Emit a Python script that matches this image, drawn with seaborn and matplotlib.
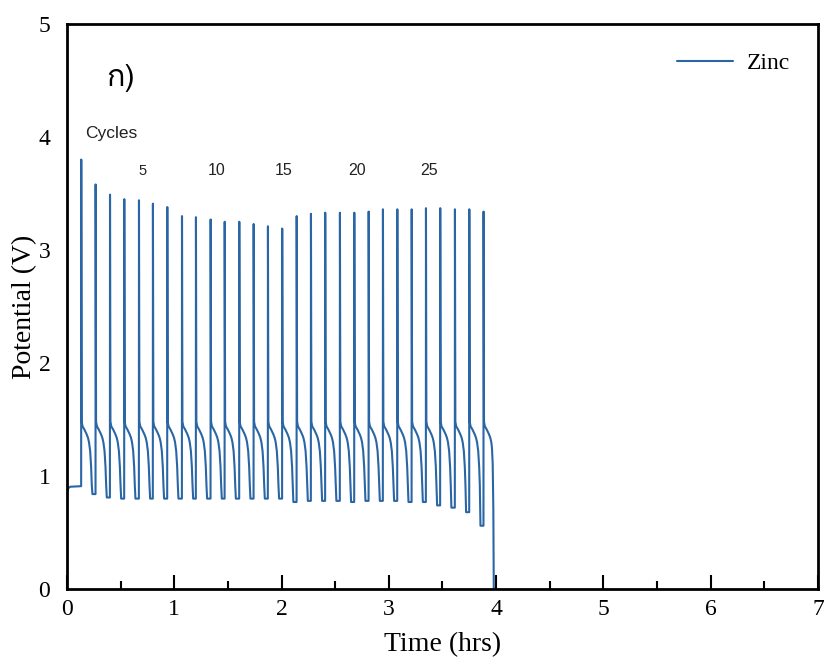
import pandas as pd
import seaborn as sns
import matplotlib.pyplot as plt
from matplotlib import font_manager, ft2font
from matplotlib.ticker import MultipleLocator

sns.set_style('ticks')
plt.rcParams['font.family'] = ['Liberation Serif', 'DejaVu Serif']

# time of each charge spike (hrs) and its peak potential (V)
peak_t = [0.133, 0.267, 0.401, 0.534, 0.671, 0.801, 0.935, 1.072, 1.202, 1.339,
          1.470, 1.606, 1.740, 1.873, 2.006, 2.141, 2.274, 2.407, 2.544, 2.678,
          2.812, 2.945, 3.079, 3.213, 3.346, 3.479, 3.616, 3.750, 3.883]
peak_v = [3.80, 3.58, 3.49, 3.45, 3.44, 3.41, 3.38, 3.30, 3.29, 3.27,
          3.25, 3.25, 3.23, 3.21, 3.19, 3.30, 3.32, 3.33, 3.33, 3.33,
          3.34, 3.36, 3.36, 3.36, 3.37, 3.37, 3.36, 3.36, 3.34]
# lowest potential reached just before each spike
floor_v = [0.91, 0.84, 0.81, 0.80, 0.80, 0.80, 0.80, 0.80, 0.80, 0.80,
           0.80, 0.80, 0.80, 0.80, 0.80, 0.77, 0.78, 0.78, 0.78, 0.77,
           0.78, 0.78, 0.78, 0.77, 0.77, 0.74, 0.72, 0.68, 0.56]

# rest period before the first cycle
start_t = [0.0, 0.01, 0.03, 0.131]
start_v = [0.86, 0.89, 0.905, 0.91]

# shape of the plateau after a spike (hrs after peak, V)
decay_dt = [0.004, 0.012, 0.030, 0.050, 0.062, 0.072, 0.083, 0.092, 0.098]
decay_v = [1.48, 1.44, 1.41, 1.37, 1.34, 1.30, 1.22, 1.08, 0.92]
floor_dt = 0.104

# end of the last cycle, cell fails
end_dt = [0.078, 0.085, 0.091, 0.095]
end_v = [1.25, 1.11, 0.70, 0.0]

cycle_labels = ['5', '10', '15', '20', '25']
cycle_label_t = [0.708, 1.392, 2.02, 2.70, 3.375]

t, v = list(start_t), list(start_v)
n = len(peak_t)
for k in range(n):
    tp = peak_t[k]
    t += [tp - 0.001, tp]
    v += [floor_v[k], peak_v[k]]
    if k < n - 1:
        t += [tp + d for d in decay_dt] + [tp + floor_dt]
        v += decay_v + [floor_v[k + 1]]
    else:
        t += [tp + d for d in decay_dt[:6]] + [tp + d for d in end_dt]
        v += decay_v[:6] + end_v

df = pd.DataFrame({'Time': t, 'Potential': v})

# find a font that has Thai glyphs for the panel label
thai_font = 'DejaVu Sans'
for f in font_manager.fontManager.ttflist:
    try:
        if 0x0E01 in ft2font.FT2Font(f.fname).get_charmap():
            thai_font = f.name
            break
    except Exception:
        pass

fig = plt.figure(figsize=(8.24, 6.59), dpi=100)
ax = fig.add_axes([0.0813, 0.1062, 0.9114, 0.8574])

sns.lineplot(data=df, x='Time', y='Potential', estimator=None, sort=False,
             color='#2a66a5', lw=1.5, label='Zinc', ax=ax)

ax.set_xlim(0, 7)
ax.set_ylim(0, 5)
ax.xaxis.set_major_locator(MultipleLocator(1))
ax.xaxis.set_minor_locator(MultipleLocator(0.5))
ax.yaxis.set_major_locator(MultipleLocator(1))
ax.tick_params(axis='x', which='major', direction='in', length=10, width=1.5,
               labelsize=17, pad=7, colors='black')
ax.tick_params(axis='x', which='minor', direction='in', length=6, width=1.5,
               colors='black')
ax.tick_params(axis='y', length=0, labelsize=17, pad=12, colors='black')
for s in ax.spines.values():
    s.set_linewidth(2)
    s.set_color('black')

ax.set_xlabel('Time (hrs)', fontsize=20, labelpad=9, color='black')
ax.set_ylabel('Potential (V)', fontsize=20, labelpad=1, color='black')

leg = ax.legend(loc='upper right', frameon=False, fontsize=17, handlelength=2.4,
                handletextpad=0.55, borderaxespad=0.8)
for txt in leg.get_texts():
    txt.set_color('black')

ax.text(0.503, 4.52, 'ก)', fontsize=22, ha='center', va='center',
        family=[thai_font, 'DejaVu Sans'], color='black')
ax.text(0.413, 4.03, 'Cycles', fontsize=12.5, ha='center', va='center',
        family='Liberation Sans', color='#222222')
for lab, x in zip(cycle_labels, cycle_label_t):
    ax.text(x, 3.70, lab, fontsize=10.5 if lab == '5' else 11.5, ha='center',
            va='center', family='Liberation Sans', color='#222222')

fig.savefig('out.png', dpi=100)
